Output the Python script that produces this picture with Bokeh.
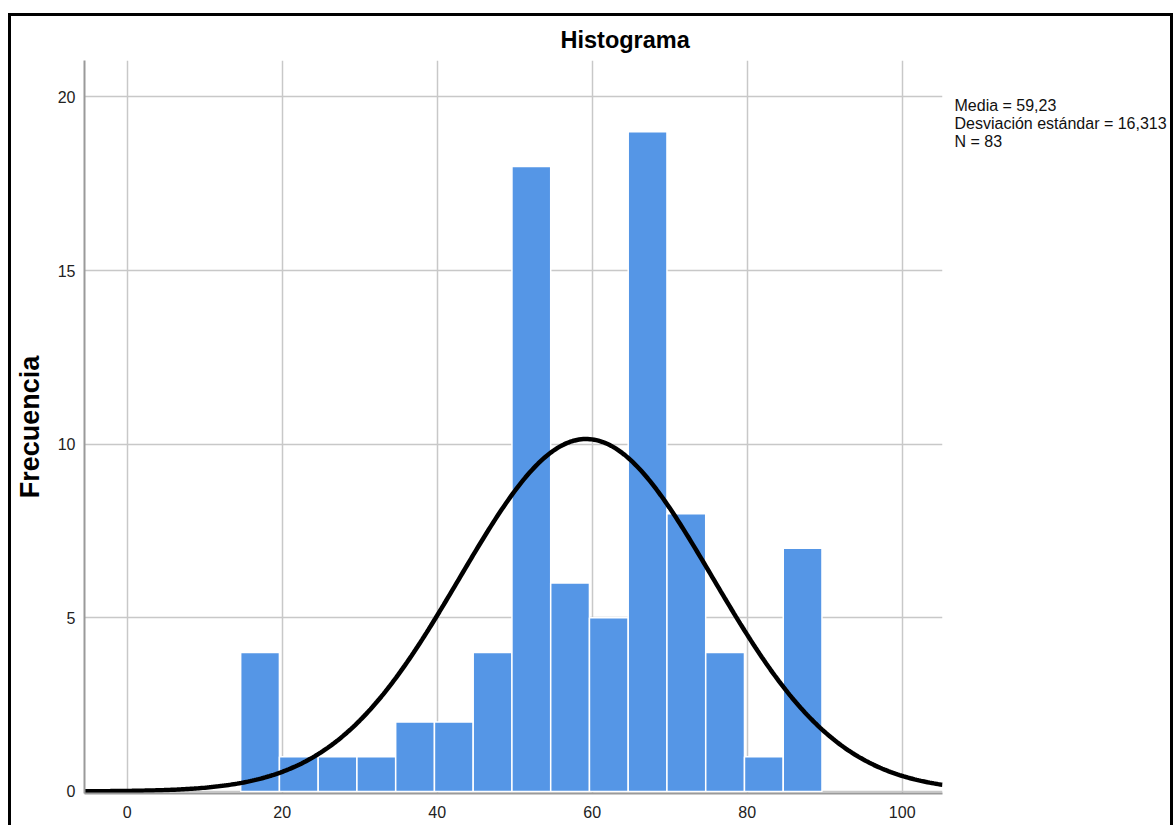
import numpy as np
from bokeh.plotting import figure
from bokeh.models import Range1d, FixedTicker, LinearAxis
from bokeh.embed import file_html
from bokeh.resources import INLINE

# ---- data ----
bin_start = 14.65
bin_width = 5.0
counts = [4, 1, 1, 1, 2, 2, 4, 18, 6, 5, 19, 8, 4, 1, 7]
media = 59.23
desv = 16.313
n_total = 83
x_ticks = [0, 20, 40, 60, 80, 100]
y_ticks = [0, 5, 10, 15, 20]
stats_lines = ["Media = 59,23", "Desviación estándar = 16,313", "N = 83"]
title_text = "Histograma"
y_label = "Frecuencia"

FONT = "Liberation Sans"

lefts = [bin_start + i * bin_width for i in range(len(counts))]
rights = [l + bin_width for l in lefts]

W, H = 1165, 812
p = figure(width=W, height=H,
           x_range=Range1d(-5.5, 105.2), y_range=Range1d(-0.06, 21.05),
           output_backend="svg", toolbar_location=None,
           min_border_left=73, min_border_right=234, min_border_top=43, min_border_bottom=35,
           styles={"border-top": "3px solid black", "border-left": "3px solid black",
                   "border-right": "3px solid black", "margin-top": "13px",
                   "margin-left": "8px"})

p.outline_line_color = None
p.background_fill_color = "white"
p.border_fill_color = "white"

# title
p.title.text = title_text
p.title.text_font = FONT
p.title.text_font_size = "23.5px"
p.title.text_font_style = "bold"
p.title.text_color = "#000000"
p.title.align = "left"
p.title.offset = 476
p.title.standoff = 16

# grids
p.xgrid.ticker = FixedTicker(ticks=x_ticks)
p.ygrid.ticker = FixedTicker(ticks=y_ticks)
for g in (p.xgrid, p.ygrid):
    g.grid_line_color = "#c8c8c8"
    g.grid_line_width = 1.5

# axes
for ax in (p.xaxis, p.yaxis):
    ax.major_tick_line_color = None
    ax.minor_tick_line_color = None
    ax.major_tick_out = 0
    ax.major_tick_in = 0
    ax.axis_line_color = "#9a9a9a"
    ax.axis_line_width = 2
    ax.major_label_text_font = FONT
    ax.major_label_text_font_size = "16px"
    ax.major_label_text_color = "#222222"
p.xaxis.ticker = FixedTicker(ticks=x_ticks)
p.yaxis.ticker = FixedTicker(ticks=y_ticks)
p.xaxis.major_label_standoff = 12
p.yaxis.major_label_standoff = 9
p.yaxis.axis_label = y_label
p.yaxis.axis_label_text_font = FONT
p.yaxis.axis_label_text_font_size = "27px"
p.yaxis.axis_label_text_font_style = "bold"
p.yaxis.axis_label_text_color = "#000000"
p.yaxis.axis_label_standoff = 10

# statistics box at the right: an unlined axis whose labels carry the text
stat_pos = [19.75, 19.23, 18.71]
stats_axis = LinearAxis(ticker=FixedTicker(ticks=stat_pos),
                        major_label_overrides={v: t for v, t in zip(stat_pos, stats_lines)},
                        axis_line_color=None, major_tick_line_color=None,
                        minor_tick_line_color=None, major_tick_out=0, major_tick_in=0,
                        major_label_standoff=12, major_label_text_font=FONT,
                        major_label_text_font_size="16px",
                        major_label_text_color="#111111")
p.add_layout(stats_axis, "right")

# bars
p.quad(left=lefts, right=rights, bottom=0, top=counts,
       fill_color="#5596E6", line_color="white", line_width=1.5)

# fitted normal curve (from the stated mean, sd and N)
xs = np.linspace(-5.5, 105.2, 400)
ys = n_total * bin_width / (desv * np.sqrt(2 * np.pi)) * np.exp(-0.5 * ((xs - media) / desv) ** 2)
p.line(xs, ys, line_color="black", line_width=4.5)

open("out.html", "w").write(file_html(p, INLINE))
